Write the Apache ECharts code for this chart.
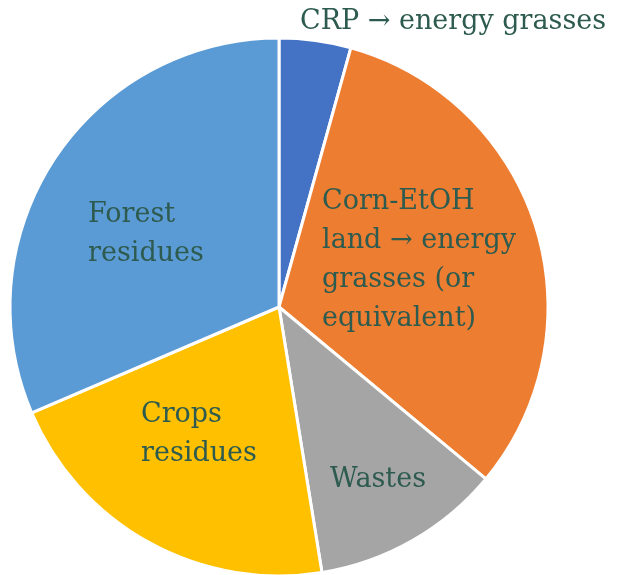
<!DOCTYPE html>
<html>
<head>
<meta charset="utf-8">
<script src="https://cdn.jsdelivr.net/npm/echarts@6/dist/echarts.min.js"></script>
<style>
  html, body { margin: 0; padding: 0; background: #fff; }
  #chart { width: 618px; height: 575px; }
</style>
</head>
<body>
<div id="chart"></div>
<script>
  // slice names (clockwise from 12 o'clock) and their shares
  const categories = [
    'CRP → energy grasses',
    'Corn-EtOH\nland → energy\ngrasses (or\nequivalent)',
    'Wastes',
    'Crops\nresidues',
    'Forest\nresidues'
  ];
  const shares = [4.3, 31.7, 11.4, 21.1, 31.4];
  const colors = ['#4472C4', '#ED7D31', '#A5A5A5', '#FFC000', '#5B9BD5'];

  // where each text block sits: left edge and vertical middle
  const labelSpots = [
    [300, 22],
    [322, 260],
    [330, 480],
    [141, 434],
    [88, 234]
  ];

  const chart = echarts.init(document.getElementById('chart'));

  const option = {
    animation: false,
    series: [{
      type: 'pie',
      center: [279, 307],
      radius: 269,
      startAngle: 90,
      clockwise: true,
      avoidLabelOverlap: false,
      itemStyle: { borderColor: '#fff', borderWidth: 3 },
      label: {
        show: true,
        position: 'inside',
        formatter: '{b}',
        color: '#2E5B4F',
        fontFamily: 'DejaVu Serif',
        fontSize: 27,
        lineHeight: 39,
        align: 'left'
      },
      labelLine: { show: false },
      labelLayout: function (p) {
        const s = labelSpots[p.dataIndex];
        return { x: s[0], y: s[1], align: 'left', verticalAlign: 'middle' };
      },
      emphasis: { disabled: true },
      data: categories.map((name, i) => ({
        name: name,
        value: shares[i],
        itemStyle: { color: colors[i] }
      }))
    }]
  };

  chart.setOption(option);
</script>
</body>
</html>
